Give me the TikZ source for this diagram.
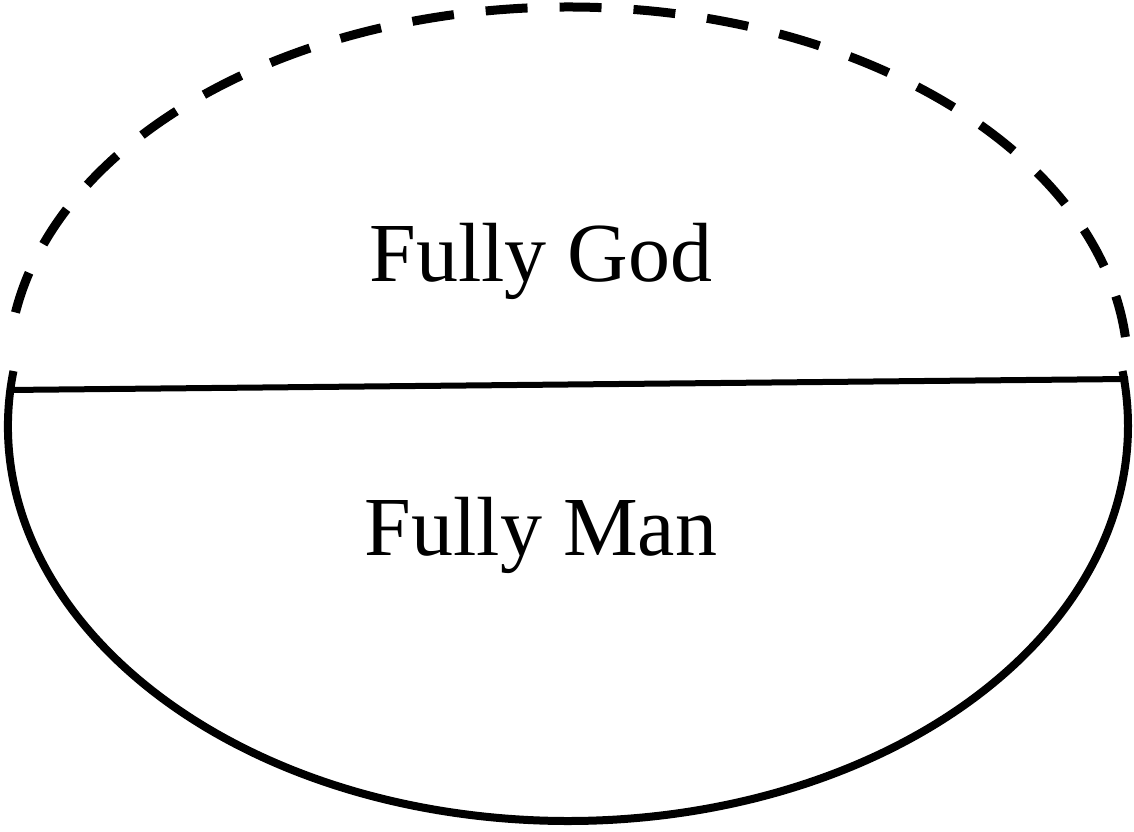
\documentclass[tikz,border=0pt]{standalone}
\usepackage{fontspec}
\setmainfont{Liberation Serif}
\tikzset{
  upperhalf/.style={draw, line width=9pt, dash pattern=on 42pt off 32pt},
  lowerhalf/.style={draw, line width=8pt},
  divider/.style={draw, line width=6pt},
  naturelabel/.style={font=\fontsize{84}{90}\selectfont, inner sep=0pt, anchor=base},
}
\begin{document}
\begin{tikzpicture}[x=1pt, y=1pt]
  \useasboundingbox (0,0) rectangle (1134,831);
  \coordinate (ct) at (568,459);
  \coordinate (cb) at (568,405);

  % upper half (dashed)
  \draw[upperhalf] (ct) ++(5.5:560 and 365)
    arc[start angle=5.5, end angle=174.5, x radius=560, y radius=365];
  % lower half (solid)
  \draw[lowerhalf] (cb) ++(172:560 and 395)
    arc[start angle=172, end angle=368, x radius=560, y radius=395];

  \coordinate (lw) at (8,441);
  \coordinate (le) at (1128,452);
  \draw[divider] (lw) -- (le);

  \node[naturelabel] (god) at (541,549) {Fully God};
  \node[naturelabel] (man) at (541,276) {Fully Man};
\end{tikzpicture}
\end{document}
